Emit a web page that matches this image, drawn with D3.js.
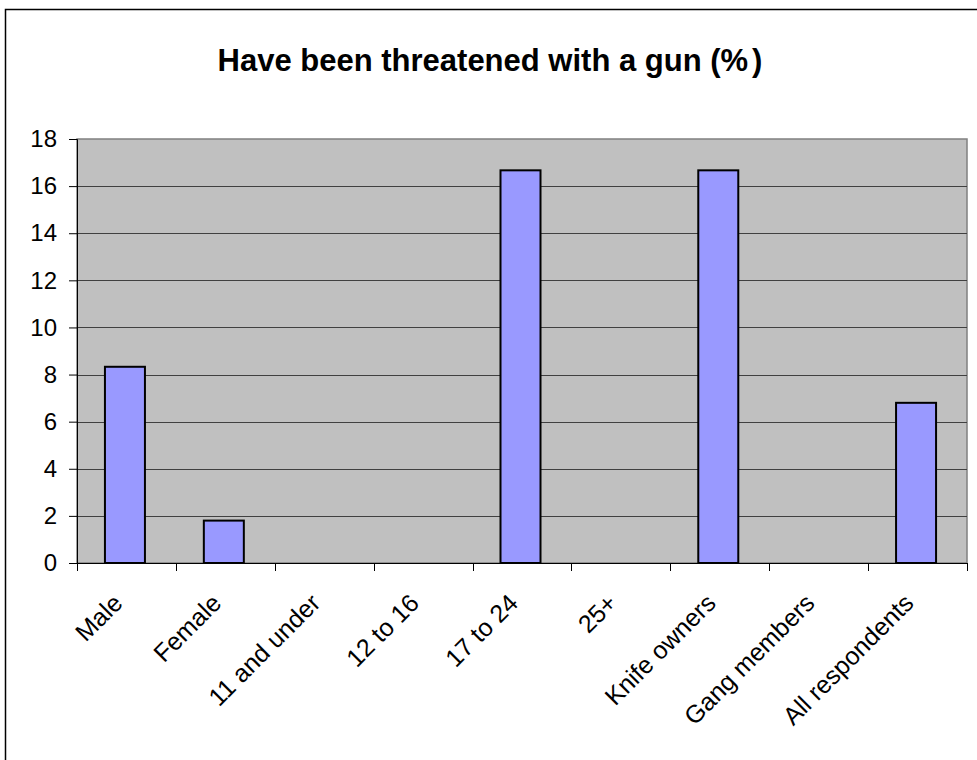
<!DOCTYPE html>
<html><head><meta charset="utf-8">
<script src="https://cdn.jsdelivr.net/npm/d3@7"></script>
<style>body{margin:0;background:#fff}svg{display:block;font-family:"Liberation Sans",Arial,sans-serif}</style>
</head><body>
<svg id="c" width="977" height="760"></svg>
<script>
const categories = ["Male","Female","11 and under","12 to 16","17 to 24","25+","Knife owners","Gang members","All respondents"];
const values = [8.33, 1.8, 0, 0, 16.67, 0, 16.67, 0, 6.8];
const yTicks = [0,2,4,6,8,10,12,14,16,18];
const titleMain = "Have been threatened with a gun (%";
const titleEnd = ")";

const svg = d3.select("#c");
const L = 77, R = 967, T = 139, B = 563;

svg.append("rect").attr("x",5.5).attr("y",9.5).attr("width",1000).attr("height",1000)
  .attr("fill","#fff").attr("stroke","#000").attr("stroke-width",1.5);

const t = svg.append("text").attr("x",490).attr("y",71).attr("text-anchor","middle")
  .attr("font-weight","bold").attr("font-size",31);
t.append("tspan").text(titleMain);
t.append("tspan").attr("dx",4).text(titleEnd);

const x = d3.scaleBand().domain(categories).range([L,R]).paddingInner(0).paddingOuter(0);
const y = d3.scaleLinear().domain([0,18]).range([B,T]);

svg.append("rect").attr("x",L).attr("y",T).attr("width",R-L).attr("height",B-T)
  .attr("fill","#C0C0C0").attr("stroke","#808080").attr("stroke-width",1.5);

svg.append("g").selectAll("line").data(yTicks.filter(d=>d>0 && d<18)).join("line")
  .attr("x1",L).attr("x2",R).attr("y1",d=>Math.round(y(d))+0.5).attr("y2",d=>Math.round(y(d))+0.5)
  .attr("stroke","#404040").attr("stroke-width",1);

const bw = 40;
svg.append("g").selectAll("rect").data(values).join("rect")
  .attr("x",(d,i)=>x(categories[i]) + x.bandwidth()/2 - bw/2 - 1.5)
  .attr("y",d=>y(d)).attr("width",bw).attr("height",d=>B-y(d))
  .attr("fill","#9999FF").attr("stroke","#000").attr("stroke-width",2)
  .style("display",d=>d>0?null:"none");

const ya = svg.append("g").attr("transform",`translate(${L},0)`)
  .call(d3.axisLeft(y).tickValues(yTicks).tickSize(8).tickPadding(12).tickFormat(d3.format("d")));
ya.select(".domain").attr("stroke","#000").attr("stroke-width",1);
ya.selectAll(".tick line").attr("stroke","#000");
ya.selectAll("text").attr("font-size",24).attr("font-family","Liberation Sans, Arial, sans-serif").attr("fill","#000");

const xa = svg.append("g").attr("transform",`translate(0,${B})`)
  .call(d3.axisBottom(x).tickSize(0).tickFormat(""));
xa.select(".domain").attr("stroke","#000");
svg.append("g").selectAll("line").data(d3.range(categories.length+1)).join("line")
  .attr("x1",i=>Math.round(L+i*x.step())+0.5).attr("x2",i=>Math.round(L+i*x.step())+0.5)
  .attr("y1",B).attr("y2",B+8).attr("stroke","#000");

svg.append("g").selectAll("text").data(categories).join("text")
  .attr("transform",d=>`translate(${x(d)+x.bandwidth()/2-15},${B+29}) rotate(-45)`)
  .attr("text-anchor","end").attr("dy","0.71em").attr("font-size",25).text(d=>d);
</script>
</body></html>
